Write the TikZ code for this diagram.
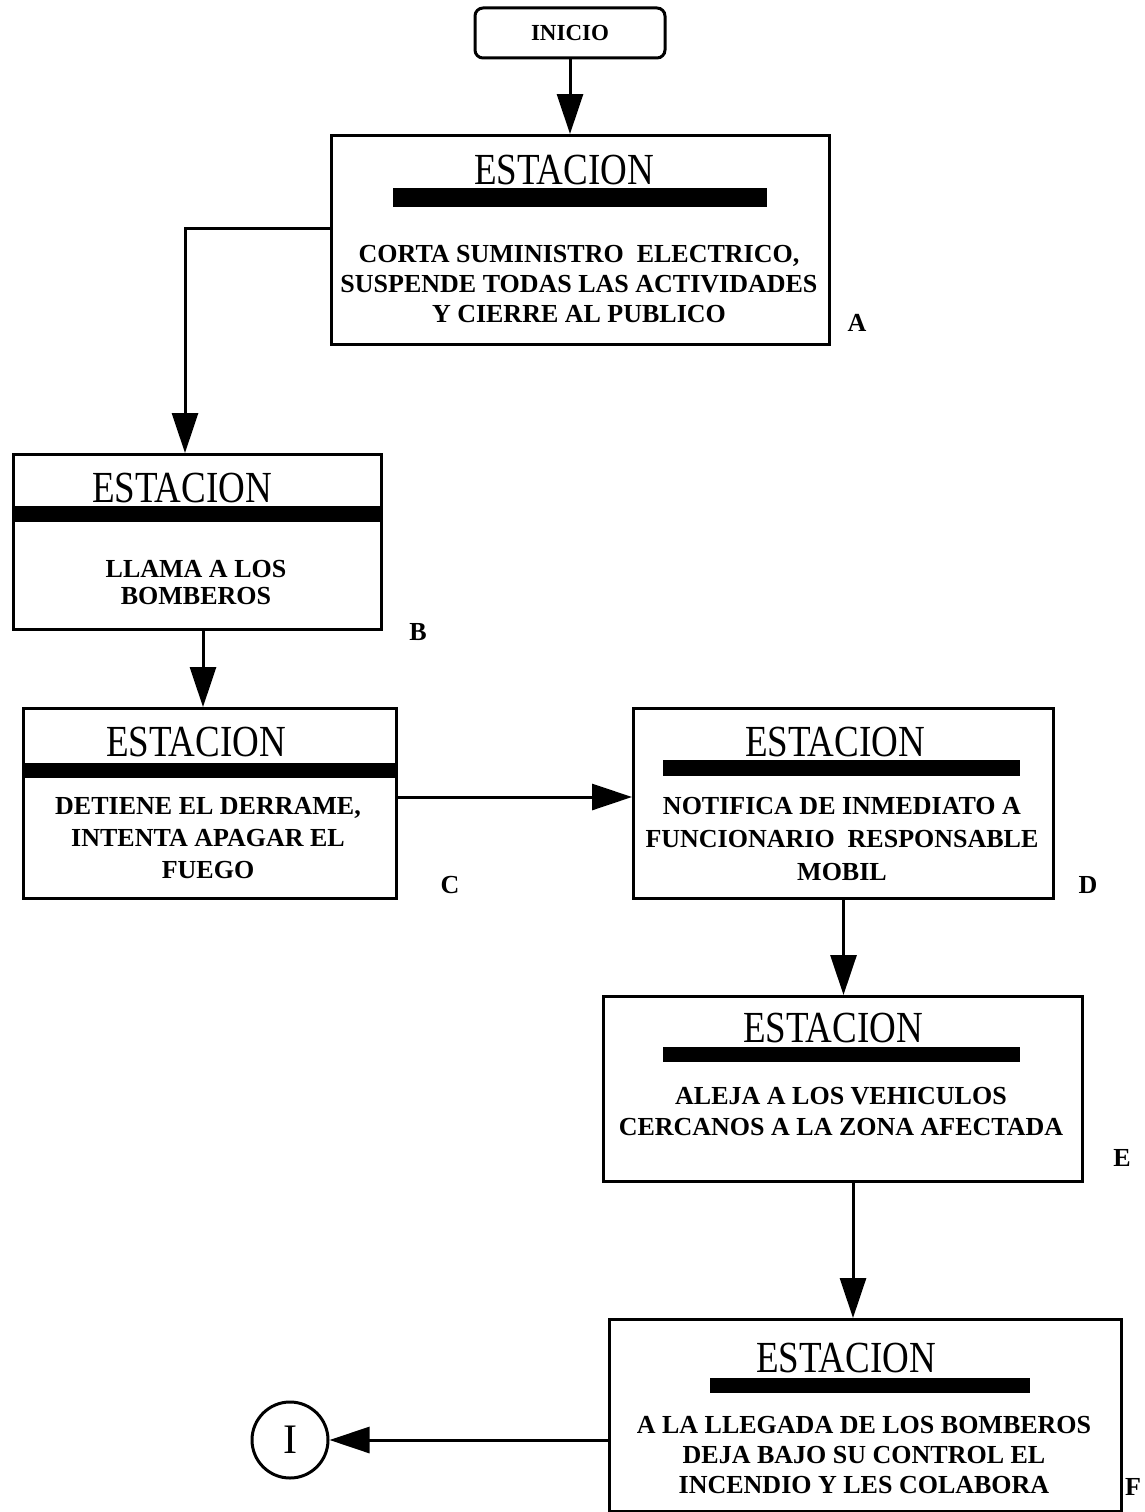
\documentclass[tikz,border=0pt]{standalone}
\usepackage{fontspec}
\usepackage{graphicx}
\setmainfont{Liberation Serif}
\usetikzlibrary{arrows.meta}

\tikzset{
  stbox/.style={draw, line width=3pt, rectangle, inner sep=0pt, anchor=north west},
  ttl/.style={inner sep=0pt, font=\fontsize{37}{40}\selectfont},
  body/.style={inner sep=0pt, align=center, font=\bfseries\fontsize{26}{30}\selectfont},
  lbl/.style={inner sep=0pt, font=\bfseries\fontsize{26}{30}\selectfont},
  arr/.style={line width=3pt, -{Triangle[length=40pt, width=26pt]}},
  bar/.style={fill=black}
}
\newcommand{\sttitle}{\scalebox{1}[1.2]{ESTACION}}

\begin{document}
\begin{tikzpicture}[x=1pt, y=-1pt]
\useasboundingbox (0,0) rectangle (1144,1512);
\fill[white] (0,0) rectangle (1144,1512);

% start terminal
\node[draw, line width=3pt, rounded corners=8pt, minimum width=190pt, minimum height=50pt,
      inner sep=0pt, font=\bfseries\fontsize{23}{26}\selectfont] (inicio) at (570,33) {INICIO};

% step A
\node[stbox, minimum width=498pt, minimum height=209pt] (A) at (330,134) {};
\node[ttl] (At) at (564,170) {\sttitle};
\fill[bar] (393,188) rectangle (767,207);
\node[body] (Ab) at (579,284) {CORTA SUMINISTRO\ \ ELECTRICO,\\SUSPENDE TODAS LAS ACTIVIDADES\\Y CIERRE AL PUBLICO};
\node[lbl] (Al) at (857,323) {A};

% step B
\node[stbox, minimum width=368pt, minimum height=175pt] (B) at (12,453) {};
\node[ttl] (Bt) at (182,488) {\sttitle};
\fill[bar] (12,506) rectangle (380,522);
\node[body, font=\bfseries\fontsize{26}{27}\selectfont] (Bb) at (196,583) {LLAMA A LOS\\BOMBEROS};
\node[lbl] (Bl) at (418,632) {B};

% step C
\node[stbox, minimum width=373pt, minimum height=190pt] (C) at (22,707) {};
\node[ttl] (Ct) at (196,742) {\sttitle};
\fill[bar] (22,763) rectangle (395,778);
\node[body, font=\bfseries\fontsize{26}{32}\selectfont] (Cb) at (208,838) {DETIENE EL DERRAME,\\INTENTA APAGAR EL\\FUEGO};
\node[lbl] (Cl) at (450,885) {C};

% step D
\node[stbox, minimum width=420pt, minimum height=190pt] (D) at (632,707) {};
\node[ttl] (Dt) at (835,742) {\sttitle};
\fill[bar] (663,760) rectangle (1020,776);
\node[body, font=\bfseries\fontsize{26}{33}\selectfont] (Db) at (842,839) {NOTIFICA DE INMEDIATO A\\FUNCIONARIO\ \ RESPONSABLE\\MOBIL};
\node[lbl] (Dl) at (1088,885) {D};

% step E
\node[stbox, minimum width=479pt, minimum height=185pt] (E) at (602,995) {};
\node[ttl] (Et) at (833,1028) {\sttitle};
\fill[bar] (663,1047) rectangle (1020,1062);
\node[body, font=\bfseries\fontsize{26}{31}\selectfont] (Eb) at (841,1112) {ALEJA A LOS VEHICULOS\\CERCANOS A LA ZONA AFECTADA};
\node[lbl] (El) at (1122,1158) {E};

% step F
\node[stbox, minimum width=512pt, minimum height=192pt] (F) at (608,1318) {};
\node[ttl] (Ft) at (846,1358) {\sttitle};
\fill[bar] (710,1378) rectangle (1030,1393);
\node[body] (Fb) at (864,1455) {A LA LLEGADA DE LOS BOMBEROS\\DEJA BAJO SU CONTROL EL\\INCENDIO Y LES COLABORA};
\node[lbl, anchor=west] (Fl) at (1125,1487) {F};

% off-page connector
\node[draw, circle, line width=3pt, minimum size=76pt, inner sep=0pt,
      font=\fontsize{42}{44}\selectfont] (I) at (290,1440) {I};

% bend points of the connectors
\coordinate (ab) at (185,228);
\coordinate (bc) at (203,0);
\coordinate (cd) at (0,797);
\coordinate (ef) at (853,0);

% connectors
\draw[arr] (inicio.south) -- (inicio.south |- A.north);
\draw[arr] (A.west |- ab) -| (B.north -| ab);
\draw[arr] (B.south -| bc) -- (C.north -| bc);
\draw[arr] (C.east |- cd) -- (D.west |- cd);
\draw[arr] (D.south) -- (D.south |- E.north);
\draw[arr] (E.south -| ef) -- (F.north -| ef);
\draw[arr] (F.west |- I.east) -- (I.east);
\end{tikzpicture}
\end{document}
